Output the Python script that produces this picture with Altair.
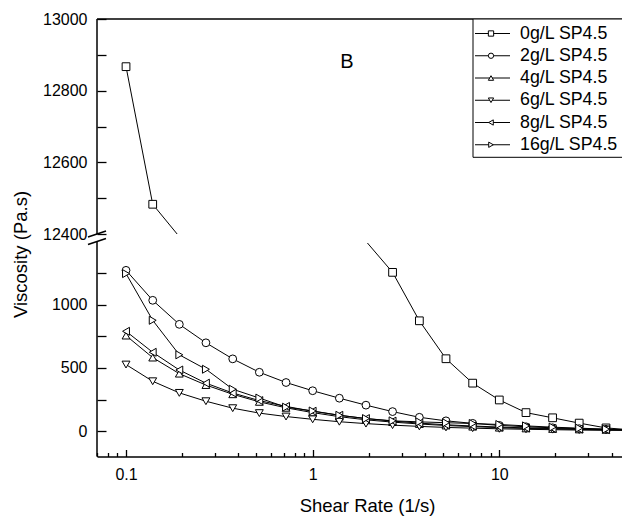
import altair as alt
import pandas as pd

# ---------------- data ----------------
shear_rate = [0.1, 0.139, 0.193, 0.268, 0.373, 0.518, 0.72, 1.0, 1.39, 1.93,
              2.68, 3.73, 5.18, 7.2, 10.0, 13.9, 19.3, 26.8, 37.3, 51.8]

series_names = ["0g/L SP4.5", "2g/L SP4.5", "4g/L SP4.5",
                "6g/L SP4.5", "8g/L SP4.5", "16g/L SP4.5"]

# 0g/L: points 3..10 lie inside the axis break (hidden, estimated from the line directions)
visc_0g = [12867, 12483, 8500, 6600, 5200, 4100, 3200, 2600, 2100, 1800,
           1256, 873, 573, 380, 247, 147, 106, 64, 26, 10]
visc_2g = [1272, 1035, 845, 699, 572, 466, 385, 320, 261, 206,
           155, 110, 82, 62, 46, 35, 27, 20, 15, 11]
visc_4g = [756, 582, 455, 365, 292, 232, 185, 147, 115, 90,
           72, 57, 45, 36, 28, 22, 18, 14, 11, 9]
visc_6g = [527, 395, 303, 237, 182, 143, 116, 94, 75, 60,
           48, 38, 30, 24, 19, 15, 12, 9, 7, 6]
visc_8g = [790, 624, 484, 380, 302, 242, 196, 158, 126, 100,
           80, 64, 51, 41, 33, 26, 21, 17, 13, 11]
visc_16g = [1246, 877, 604, 490, 332, 262, 190, 160, 126, 100,
            82, 74, 67, 61, 53, 42, 32, 24, 16, 10]

marker_shapes = ["square", "circle", "triangle-up", "triangle-down",
                 "triangle-left", "triangle-right"]
marker_sizes = [60, 64, 85, 85, 85, 85]

y_label_values = [0, 500, 1000, 12400, 12600, 12800, 13000]
y_tick_values = [0, 250, 500, 750, 1000, 1250,
                 12400, 12500, 12600, 12700, 12800, 12900, 13000]
x_label_values = [0.1, 1, 10]
x_minor_values = [0.07, 0.08, 0.09, 0.2, 0.3, 0.4, 0.5, 0.6, 0.7, 0.8, 0.9,
                  2, 3, 4, 5, 6, 7, 8, 9, 20, 30, 40]

break_low, break_high = 1500, 12400
y_bottom, y_top = -200, 13000
x_min, x_max = 0.0699, 45.44

# ---------------- layout ----------------
W = 525
UPPER_H = 215
GAP = 7.5
LOWER_H = 215
H = UPPER_H + GAP + LOWER_H
FONT = "Liberation Sans"

all_series = [visc_0g, visc_2g, visc_4g, visc_6g, visc_8g, visc_16g]
rows = []
for name, vals in zip(series_names, all_series):
    for r, v in zip(shear_rate, vals):
        rows.append({"series": name, "rate": r, "visc": v})
df = pd.DataFrame(rows)

xscale = alt.Scale(type="log", domain=[x_min, x_max], nice=False)
yscale = alt.Scale(type="linear", domain=[y_bottom, break_low, break_high, y_top],
                   range=[H, UPPER_H + GAP, UPPER_H, 0], nice=False, zero=False)

x_label_axis = alt.Axis(values=x_label_values, format="~g", orient="bottom",
                        ticks=False, domain=True, domainColor="black", domainWidth=1.5,
                        grid=False, labelPadding=22.5, labelBaseline="alphabetic",
                        labelFontSize=16, labelFont=FONT, labelColor="black",
                        labelFlush=False, labelOverlap=False,
                        title="Shear Rate (1/s)", titleX=270, titleY=55,
                        titleAlign="center", titleBaseline="alphabetic",
                        titleFontSize=18.5, titleFont=FONT, titleFontWeight="normal",
                        titleColor="black")
x_major_axis = alt.Axis(values=x_label_values, orient="bottom", offset=-7,
                        ticks=True, tickSize=7, tickWidth=1.3, tickColor="black",
                        labels=False, domain=False, grid=False, title=None, zindex=1)
x_minor_axis = alt.Axis(values=x_minor_values, orient="bottom", offset=-4,
                        ticks=True, tickSize=4, tickWidth=1.3, tickColor="black",
                        labels=False, domain=False, grid=False, title=None, zindex=1)

y_label_axis = alt.Axis(values=y_label_values, format="d", orient="left", ticks=False,
                        domain=False, grid=False, labelPadding=10,
                        labelFontSize=16, labelFont=FONT, labelColor="black",
                        labelFlush=False, labelOverlap=False,
                        title="Viscosity (Pa.s)", titleX=-70.5, titleY=235,
                        titleAngle=270, titleAlign="center", titleBaseline="alphabetic",
                        titleFontSize=18.5, titleFont=FONT, titleFontWeight="normal",
                        titleColor="black")
y_tick_axis = alt.Axis(values=y_tick_values, orient="left", offset=-9,
                       ticks=True, tickSize=9, tickWidth=1.3, tickColor="black",
                       labels=False, domain=False, grid=False, title=None, zindex=1)

base = alt.Chart(df)

lines = base.mark_line(color="black", strokeWidth=1, clip=True).encode(
    x=alt.X("rate:Q", scale=xscale, axis=x_label_axis),
    y=alt.Y("visc:Q", scale=yscale, axis=y_label_axis),
    detail="series:N",
)

points = base.transform_filter(
    f"datum.visc < {break_low} || datum.visc > {break_high}"
).mark_point(filled=True, fill="white", stroke="black", strokeWidth=1,
             opacity=1, clip=True).encode(
    x=alt.X("rate:Q", scale=xscale, axis=x_major_axis),
    y=alt.Y("visc:Q", scale=yscale, axis=y_tick_axis),
    shape=alt.Shape("series:N", scale=alt.Scale(domain=series_names, range=marker_shapes),
                    legend=None),
    size=alt.Size("series:N", scale=alt.Scale(domain=series_names, range=marker_sizes),
                  legend=None),
)

minor_ticks = alt.Chart(pd.DataFrame({"t": x_minor_values})).mark_point(opacity=0).encode(
    x=alt.X("t:Q", scale=xscale, axis=x_minor_axis),
)

# white band hiding the data that falls inside the axis break
gap_band = alt.Chart().mark_rect(color="white", y2Offset=1.5).encode(
    x=alt.value(0), x2=alt.value(W),
    y=alt.YDatum(break_high, scale=yscale, axis=None),
    y2=alt.Y2Datum(break_low),
)

spine_upper = alt.Chart().mark_rule(color="black", strokeWidth=1.5).encode(
    x=alt.value(0),
    y=alt.YDatum(y_top, scale=yscale, axis=None), y2=alt.Y2Datum(break_high),
)
spine_lower = alt.Chart().mark_rule(color="black", strokeWidth=1.5).encode(
    x=alt.value(0),
    y=alt.YDatum(break_low, scale=yscale, axis=None), y2=alt.Y2Datum(y_bottom),
)
top_border = alt.Chart().mark_rule(color="black", strokeWidth=1.5).encode(
    x=alt.value(0), x2=alt.value(W + 10),
    y=alt.YDatum(y_top, scale=yscale, axis=None),
)

slashes = []
for v in (break_high, break_low):
    slashes.append(alt.Chart().mark_rule(color="black", strokeWidth=1.5,
                                         yOffset=3, y2Offset=-3).encode(
        x=alt.value(-9), x2=alt.value(9),
        y=alt.YDatum(v, scale=yscale, axis=None), y2=alt.Y2Datum(v),
    ))

# legend (drawn by hand)
LEG_X = 376
LEG_BOTTOM = 138.3
legend_layers = [alt.Chart().mark_rect(fill="white", stroke="black", strokeWidth=1,
                                       clip=True).encode(
    x=alt.value(LEG_X), x2=alt.value(W + 30), y=alt.value(0), y2=alt.value(LEG_BOTTOM))]
for i, name in enumerate(series_names):
    ry = 14.5 + 22.25 * i
    legend_layers.append(alt.Chart().mark_rule(color="black", strokeWidth=1).encode(
        x=alt.value(LEG_X + 2), x2=alt.value(LEG_X + 37), y=alt.value(ry)))
    legend_layers.append(alt.Chart().mark_point(
        filled=True, fill="white", stroke="black", strokeWidth=1, opacity=1,
        shape=marker_shapes[i], size=28).encode(
        x=alt.value(LEG_X + 18), y=alt.value(ry)))
    legend_layers.append(alt.Chart().mark_text(
        align="left", baseline="middle", fontSize=17.8, font=FONT, color="black",
        clip=True).encode(
        x=alt.value(LEG_X + 47), y=alt.value(ry), text=alt.value(name)))

panel_label = alt.Chart().mark_text(fontSize=20, font=FONT, color="black",
                                    align="center", baseline="middle").encode(
    x=alt.value(250), y=alt.value(42.5), text=alt.value("B"))

chart = alt.layer(
    lines, points, minor_ticks, gap_band, spine_upper, spine_lower, top_border,
    *slashes, *legend_layers, panel_label,
).resolve_axis(
    x="independent", y="independent"
).properties(
    width=W, height=H,
    padding={"left": 89, "top": 11, "right": 0, "bottom": 60},
    autosize=alt.AutoSizeParams(type="none"),
    background="white",
).configure_view(strokeWidth=0)

chart.save("out.html", embed_options={"renderer": "svg", "actions": False})
